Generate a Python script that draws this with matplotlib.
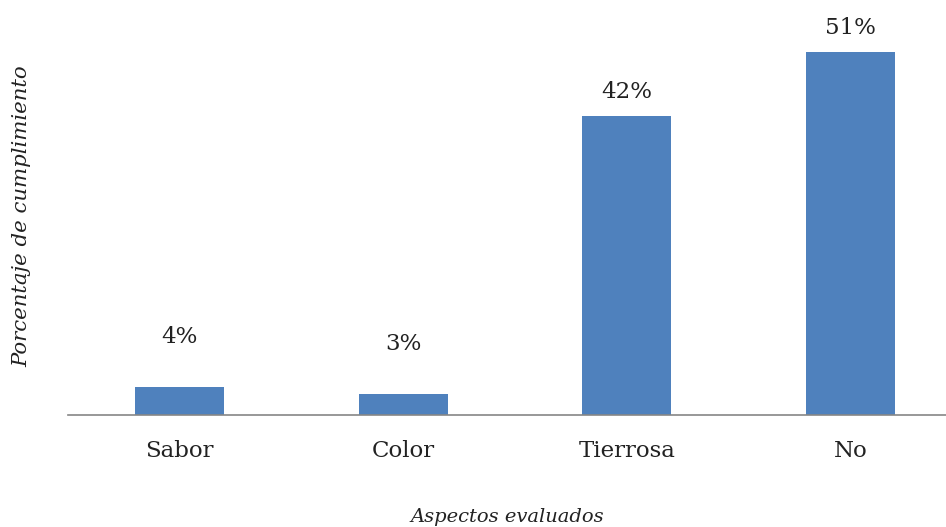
import matplotlib
matplotlib.use("Agg")
import matplotlib.pyplot as plt

categories = ["Sabor", "Color", "Tierrosa", "No"]
values = [4, 3, 42, 51]
value_labels = ["4%", "3%", "42%", "51%"]

plt.rcParams["font.family"] = ["DejaVu Serif"]

fig = plt.figure(figsize=(9.46, 5.27), dpi=100)
ax = fig.add_axes([68 / 946, 112 / 527, 894 / 946, 415 / 527])

x = range(len(categories))
bars = ax.bar(x, values, width=0.4, color="#4F81BD", zorder=2)

# data labels sit higher above the short bars
label_offsets_px = [50, 50, 24, 24]
for xi, v, lab, off in zip(x, values, value_labels, label_offsets_px):
    ax.annotate(lab, (xi, v), xytext=(0, off * 0.72), textcoords="offset points",
                ha="center", va="center", fontsize=16.5, color="#222222")

ax.set_xlim(-0.5, len(categories) - 0.5)
ax.set_ylim(0, 58.3)
ax.set_xticks(list(x))
ax.set_xticklabels(categories, fontsize=16.5, color="#222222")
ax.tick_params(axis="x", length=0, pad=18)
ax.set_yticks([])

for side in ["top", "right", "left"]:
    ax.spines[side].set_visible(False)
ax.spines["bottom"].set_color("#868686")
ax.spines["bottom"].set_linewidth(1.2)

fig.text(507 / 946, 1 - 517 / 527, "Aspectos evaluados", ha="center", va="center",
         fontsize=14, style="italic", color="#222222")
fig.text(22 / 946, 1 - 216 / 527, "Porcentaje de cumplimiento", ha="center", va="center",
         rotation=90, fontsize=15.3, style="italic", color="#222222")

fig.savefig("out.png", dpi=100)
